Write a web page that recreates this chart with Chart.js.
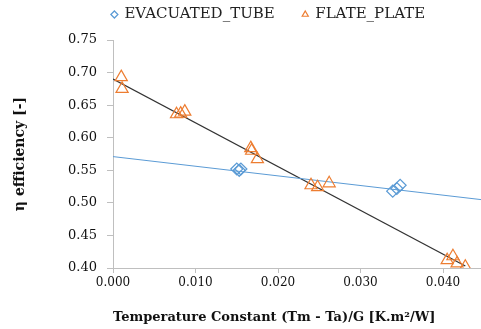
<!DOCTYPE html>
<html>
<head>
<meta charset="utf-8">
<script src="https://cdn.jsdelivr.net/npm/chart.js@4/dist/chart.umd.min.js"></script>
<style>
  html, body { margin: 0; padding: 0; background: #fff; }
  #wrap { width: 481px; height: 329px; position: relative; }
</style>
</head>
<body>
<div id="wrap"><canvas id="c"></canvas></div>
<script>
/* collector efficiency vs reduced temperature */
const evacX = [0.0150, 0.0153, 0.0155, 0.0339, 0.0344, 0.0348];
const evacY = [0.552, 0.550, 0.552, 0.518, 0.522, 0.527];
const flateX = [0.0010, 0.0011, 0.0077, 0.0082, 0.0087, 0.0167, 0.0168, 0.0175,
                0.0240, 0.0248, 0.0262, 0.0405, 0.0412, 0.0417, 0.0427];
const flateY = [0.693, 0.675, 0.636, 0.637, 0.640, 0.584, 0.580, 0.567,
                0.527, 0.524, 0.530, 0.412, 0.418, 0.407, 0.402];
// linear trend lines, end points as drawn
const trendEvacX = [0, 0.0446], trendEvacY = [0.571, 0.505];
const trendFlateX = [0, 0.0427], trendFlateY = [0.690, 0.403];
const xTicks = [0, 0.01, 0.02, 0.03, 0.04];

const BLUE = "#5b9bd5", ORANGE = "#ed7d31";
const SERIF = "'DejaVu Serif', serif";
const pts = (xs, ys) => xs.map((x, i) => ({ x, y: ys[i] }));

// legend sits higher and a bit right of centre in the original
// (only top moves: the legend clips to its own box)
const legendShift = {
  id: "legendShift",
  afterLayout(chart) {
    const L = chart.legend;
    L.left += 28; L.right += 28;
    L.top -= 21;
  },
};

new Chart(document.getElementById("c"), {
  type: "scatter",
  data: {
    datasets: [
      { label: "EVACUATED_TUBE", data: pts(evacX, evacY), pointStyle: "rectRot",
        pointRadius: 6, borderColor: BLUE, backgroundColor: "rgba(0,0,0,0)", borderWidth: 1.2 },
      { label: "FLATE_PLATE", data: pts(flateX, flateY), pointStyle: "triangle",
        pointRadius: 7, borderColor: ORANGE, backgroundColor: "rgba(0,0,0,0)", borderWidth: 1.2 },
      { label: "trend evac", data: pts(trendEvacX, trendEvacY), showLine: true,
        pointRadius: 0, borderColor: BLUE, borderWidth: 1 },
      { label: "trend flate", data: pts(trendFlateX, trendFlateY), showLine: true,
        pointRadius: 0, borderColor: "#333", borderWidth: 1.3 },
    ],
  },
  options: {
    responsive: true, maintainAspectRatio: false, animation: false,
    layout: { padding: 0, autoPadding: false },
    plugins: {
      tooltip: { enabled: false },
      legend: {
        position: "top", maxHeight: 40,
        labels: {
          usePointStyle: true, boxWidth: 5, boxHeight: 5, padding: 28,
          color: "#222", font: { family: SERIF, size: 15 },
          filter: it => !it.text.startsWith("trend"),
        },
      },
    },
    scales: {
      x: {
        type: "linear", min: 0, max: 0.0446,
        afterBuildTicks: s => { s.ticks = xTicks.map(v => ({ value: v })); },
        afterFit: s => { s.height = 61; s.paddingLeft = 0; s.paddingRight = 0; },
        grid: { drawOnChartArea: false, tickLength: 5, color: "#bfbfbf" },
        border: { color: "#bfbfbf" },
        ticks: { padding: 3, color: "#111", font: { family: SERIF, size: 12 },
          callback: v => v.toFixed(3) },
        title: { display: true, align: "start", text: "Temperature Constant (Tm - Ta)/G [K.m²/W]",
          color: "#111", font: { family: SERIF, size: 13, weight: "bold" },
          padding: { top: 0, bottom: 4 } },
      },
      y: {
        min: 0.40, max: 0.75,
        afterFit: s => { s.width = 113; },
        grid: { drawOnChartArea: false, tickLength: 6, color: "#bfbfbf" },
        border: { color: "#bfbfbf" },
        ticks: { stepSize: 0.05, padding: 10, color: "#111", font: { family: SERIF, size: 13 },
          callback: v => v.toFixed(2) },
        title: { display: true, text: "η efficiency [-]",
          color: "#111", font: { family: SERIF, size: 14, weight: "bold" },
          padding: { top: 12, bottom: 0 } },
      },
    },
  },
  plugins: [legendShift],
});
</script>
</body>
</html>
